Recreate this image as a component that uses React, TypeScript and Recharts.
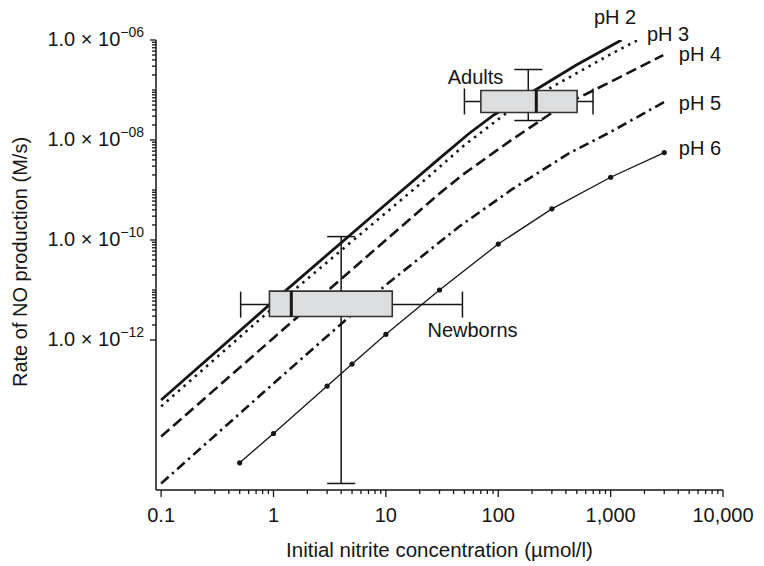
import React from 'react';
import {
  ComposedChart,
  Line,
  XAxis,
  YAxis,
  Scatter,
  ErrorBar,
  ReferenceArea,
  ReferenceLine,
  ReferenceDot,
} from 'recharts';

const FONT = '"Liberation Sans", Arial, Helvetica, sans-serif';
const INK = '#151515';

// Initial nitrite concentration (µmol/l) -> rate of NO production (M/s)
const ph2X = [0.1, 1, 10, 30, 55, 92, 210, 500, 1250];
const ph2Y = [6.3e-14, 6.0e-12, 5.2e-10, 4.3e-9, 1.35e-8, 3.2e-8, 9.8e-8, 3.2e-7, 1.0e-6];

const ph3X = [0.1, 1, 10, 23, 50, 117, 324, 1000, 1750];
const ph3Y = [4.7e-14, 4.5e-12, 3.5e-10, 1.7e-9, 7.9e-9, 3.4e-8, 1.26e-7, 5.2e-7, 1.0e-6];

const ph4X = [0.1, 1, 4, 10, 30, 48, 125, 283, 503, 1000, 2940];
const ph4Y = [1.17e-14, 1.1e-12, 1.66e-11, 1.0e-10, 8.5e-10, 2.0e-9, 9.3e-9, 3.2e-8, 6.8e-8, 1.45e-7, 5.0e-7];

const ph5X = [0.1, 1, 3.2, 10, 45, 134, 425, 1000, 3100];
const ph5Y = [1.35e-15, 1.35e-13, 1.35e-12, 1.26e-11, 1.86e-10, 1.05e-9, 5.4e-9, 1.45e-8, 6.0e-8];

const ph6X = [0.5, 1, 3, 5, 10, 30, 100, 300, 1000, 3000];
const ph6Y = [3.5e-15, 1.35e-14, 1.2e-13, 3.3e-13, 1.3e-12, 1.0e-11, 8.3e-11, 4.2e-10, 1.8e-9, 5.6e-9];

// Box plots: [whiskerLow, q1, median, q3, whiskerHigh] along x
const adultsX = [50, 70, 218, 503, 697];
// [boxBottom, whiskerLevel, boxTop] along y
const adultsY = [3.55e-8, 5.9e-8, 9.8e-8];
// vertical error bar: [x, low, high]
const adultsV = [185, 2.45e-8, 2.57e-7];

const newbornsX = [0.51, 0.92, 1.44, 11.4, 48];
const newbornsY = [2.95e-12, 5.1e-12, 9.5e-12];
const newbornsV = [4, 1.35e-15, 1.17e-10];

// Series labels: [text, x, y]
const seriesLabels: [string, number, number][] = [
  ['pH 2', 1094, 2.1e-6],
  ['pH 3', 3245, 9.5e-7],
  ['pH 4', 6240, 3.85e-7],
  ['pH 5', 6240, 4.04e-8],
  ['pH 6', 6240, 4.97e-9],
  ['Adults', 62.7, 1.29e-7],
  ['Newborns', 59, 1.16e-12],
];

// Axis ticks
const xMajorTicks = [0.1, 1, 10, 100, 1000, 10000];
const xTickLabels = ['0.1', '1', '10', '100', '1,000', '10,000'];
const xMinorDecades = [0.1, 1, 10, 100, 1000];
const yMajorTicks = [1e-6, 1e-8, 1e-10, 1e-12];
const yTickExponents = ['\u221206', '\u221208', '\u221210', '\u221212'];
const yMinorDecades = [1e-12, 1e-11, 1e-10, 1e-9, 1e-8, 1e-7];
const minorMultipliers = [2, 3, 4, 5, 6, 7, 8, 9];

const xTicks = [
  ...xMajorTicks,
  ...xMinorDecades.flatMap((d) => minorMultipliers.map((m) => m * d)),
];
const yTicks = [
  ...yMajorTicks,
  1e-7,
  1e-9,
  1e-11,
  ...yMinorDecades.flatMap((d) => minorMultipliers.map((m) => m * d)),
];

const toPoints = (xs: number[], ys: number[]) => xs.map((x, i) => ({ x, y: ys[i] }));

const ph2Data = toPoints(ph2X, ph2Y);
const ph3Data = toPoints(ph3X, ph3Y);
const ph4Data = toPoints(ph4X, ph4Y);
const ph5Data = toPoints(ph5X, ph5Y);
const ph6Data = toPoints(ph6X, ph6Y);

const whiskerRow = (bx: number[], by: number[]) => [
  { x: bx[2], y: by[1], ex: [bx[2] - bx[0], bx[4] - bx[2]] },
];
const verticalRow = (v: number[], by: number[]) => [
  { x: v[0], y: by[1], ey: [by[1] - v[1], v[2] - by[1]] },
];

const renderXTick = (p: any) => {
  const v = p.payload.value;
  const idx = xMajorTicks.indexOf(v);
  const major = idx >= 0;
  return (
    <g>
      <line x1={p.x} x2={p.x} y1={p.y} y2={p.y + (major ? 7 : 4)} stroke={INK} strokeWidth={1.3} />
      {major && (
        <text x={p.x} y={p.y + 32} textAnchor="middle" fontSize={20} fontFamily={FONT} fill={INK}>
          {xTickLabels[idx]}
        </text>
      )}
    </g>
  );
};

const renderYTick = (p: any) => {
  const v = p.payload.value;
  const idx = yMajorTicks.indexOf(v);
  const major = idx >= 0;
  return (
    <g>
      <line x1={p.x} x2={p.x - (major ? 6 : 4)} y1={p.y} y2={p.y} stroke={INK} strokeWidth={1.3} />
      {major && (
        <text x={p.x - 12} y={p.y + 6} textAnchor="end" fontSize={20} fontFamily={FONT} fill={INK}>
          <tspan>1.0 × 10</tspan>
          <tspan dy={-9} fontSize={14}>
            {yTickExponents[idx]}
          </tspan>
        </text>
      )}
    </g>
  );
};

const renderXTitle = (p: any) => {
  const vb = p.viewBox || { x: 148, y: 482, width: 567 };
  return (
    <text x={vb.x + vb.width / 2} y={vb.y + 67} textAnchor="middle" fontSize={20.5} fontFamily={FONT} fill={INK}>
      Initial nitrite concentration (µmol/l)
    </text>
  );
};

const renderYTitle = (p: any) => {
  const vb = p.viewBox || { x: 0, y: 32, width: 148, height: 450 };
  const cx = vb.x + 19;
  const cy = vb.y + vb.height / 2 - 3;
  return (
    <text
      x={cx}
      y={cy}
      transform={`rotate(-90, ${cx}, ${cy})`}
      textAnchor="middle"
      fontSize={20}
      fontFamily={FONT}
      fill={INK}
    >
      Rate of NO production (M/s)
    </text>
  );
};

const textLabel = (text: string) => (p: any) => {
  const vb = p.viewBox || { x: 0, y: 0 };
  return (
    <text x={vb.x} y={vb.y} textAnchor="middle" fontSize={20} fontFamily={FONT} fill={INK}>
      {text}
    </text>
  );
};

const noShape = () => <g />;

const Box = (bx: number[], by: number[], key: string) => [
  <ReferenceArea
    key={key + '-box'}
    x1={bx[1]}
    x2={bx[3]}
    y1={by[0]}
    y2={by[2]}
    fill="#dcddde"
    fillOpacity={1}
    stroke="#333"
    strokeWidth={1.6}
    ifOverflow="visible"
    {...({ zIndex: 1000 } as any)}
  />,
  <ReferenceLine
    key={key + '-median'}
    segment={[
      { x: bx[2], y: by[0] },
      { x: bx[2], y: by[2] },
    ]}
    stroke={INK}
    strokeWidth={3}
    ifOverflow="visible"
    {...({ zIndex: 1100 } as any)}
  />,
];

export default function App() {
  return (
    <ComposedChart
      width={756}
      height={558}
      margin={{ top: 32, right: 41, left: 0, bottom: 0 }}
      style={{ fontFamily: FONT }}
    >
      <XAxis
        type="number"
        dataKey="x"
        scale="log"
        domain={[0.09, 10000]}
        allowDataOverflow
        ticks={xTicks}
        interval={0}
        tickSize={0}
        tickMargin={0}
        tickLine={false}
        axisLine={{ stroke: INK, strokeWidth: 1.5 }}
        tick={renderXTick}
        height={76}
        label={renderXTitle}
      />
      <YAxis
        type="number"
        dataKey="y"
        scale="log"
        domain={[1e-15, 1e-6]}
        allowDataOverflow
        ticks={yTicks}
        interval={0}
        tickSize={0}
        tickMargin={0}
        tickLine={false}
        axisLine={{ stroke: INK, strokeWidth: 1.5 }}
        tick={renderYTick}
        width={148}
        label={renderYTitle}
      />
      <Line data={ph2Data} dataKey="y" type="linear" stroke={INK} strokeWidth={2.8} dot={false} isAnimationActive={false} />
      <Line
        data={ph3Data}
        dataKey="y"
        type="linear"
        stroke={INK}
        strokeWidth={2.6}
        strokeDasharray="2.5 5"
        dot={false}
        isAnimationActive={false}
      />
      <Line
        data={ph4Data}
        dataKey="y"
        type="linear"
        stroke={INK}
        strokeWidth={2.6}
        strokeDasharray="11 5"
        dot={false}
        isAnimationActive={false}
      />
      <Line
        data={ph5Data}
        dataKey="y"
        type="linear"
        stroke={INK}
        strokeWidth={2.6}
        strokeDasharray="10 4.5 2.5 4.5"
        dot={false}
        isAnimationActive={false}
      />
      <Line
        data={ph6Data}
        dataKey="y"
        type="linear"
        stroke={INK}
        strokeWidth={1.3}
        dot={{ r: 2.6, fill: INK, stroke: 'none' }}
        isAnimationActive={false}
      />
      <Scatter data={whiskerRow(adultsX, adultsY)} dataKey="y" shape={noShape} isAnimationActive={false}>
        <ErrorBar dataKey="ex" direction="x" width={13} stroke={INK} strokeWidth={1.5} />
      </Scatter>
      <Scatter data={verticalRow(adultsV, adultsY)} dataKey="y" shape={noShape} isAnimationActive={false}>
        <ErrorBar dataKey="ey" direction="y" width={14} stroke={INK} strokeWidth={1.5} />
      </Scatter>
      <Scatter data={whiskerRow(newbornsX, newbornsY)} dataKey="y" shape={noShape} isAnimationActive={false}>
        <ErrorBar dataKey="ex" direction="x" width={13} stroke={INK} strokeWidth={1.5} />
      </Scatter>
      <Scatter data={verticalRow(newbornsV, newbornsY)} dataKey="y" shape={noShape} isAnimationActive={false}>
        <ErrorBar dataKey="ey" direction="y" width={14} stroke={INK} strokeWidth={1.5} />
      </Scatter>
      {Box(adultsX, adultsY, 'adults')}
      {Box(newbornsX, newbornsY, 'newborns')}
      {seriesLabels.map(([t, x, y]) => (
        <ReferenceDot
          key={t}
          x={x}
          y={y}
          r={0}
          fill="none"
          stroke="none"
          ifOverflow="visible"
          label={textLabel(t)}
          {...({ zIndex: 1200 } as any)}
        />
      ))}
    </ComposedChart>
  );
}
